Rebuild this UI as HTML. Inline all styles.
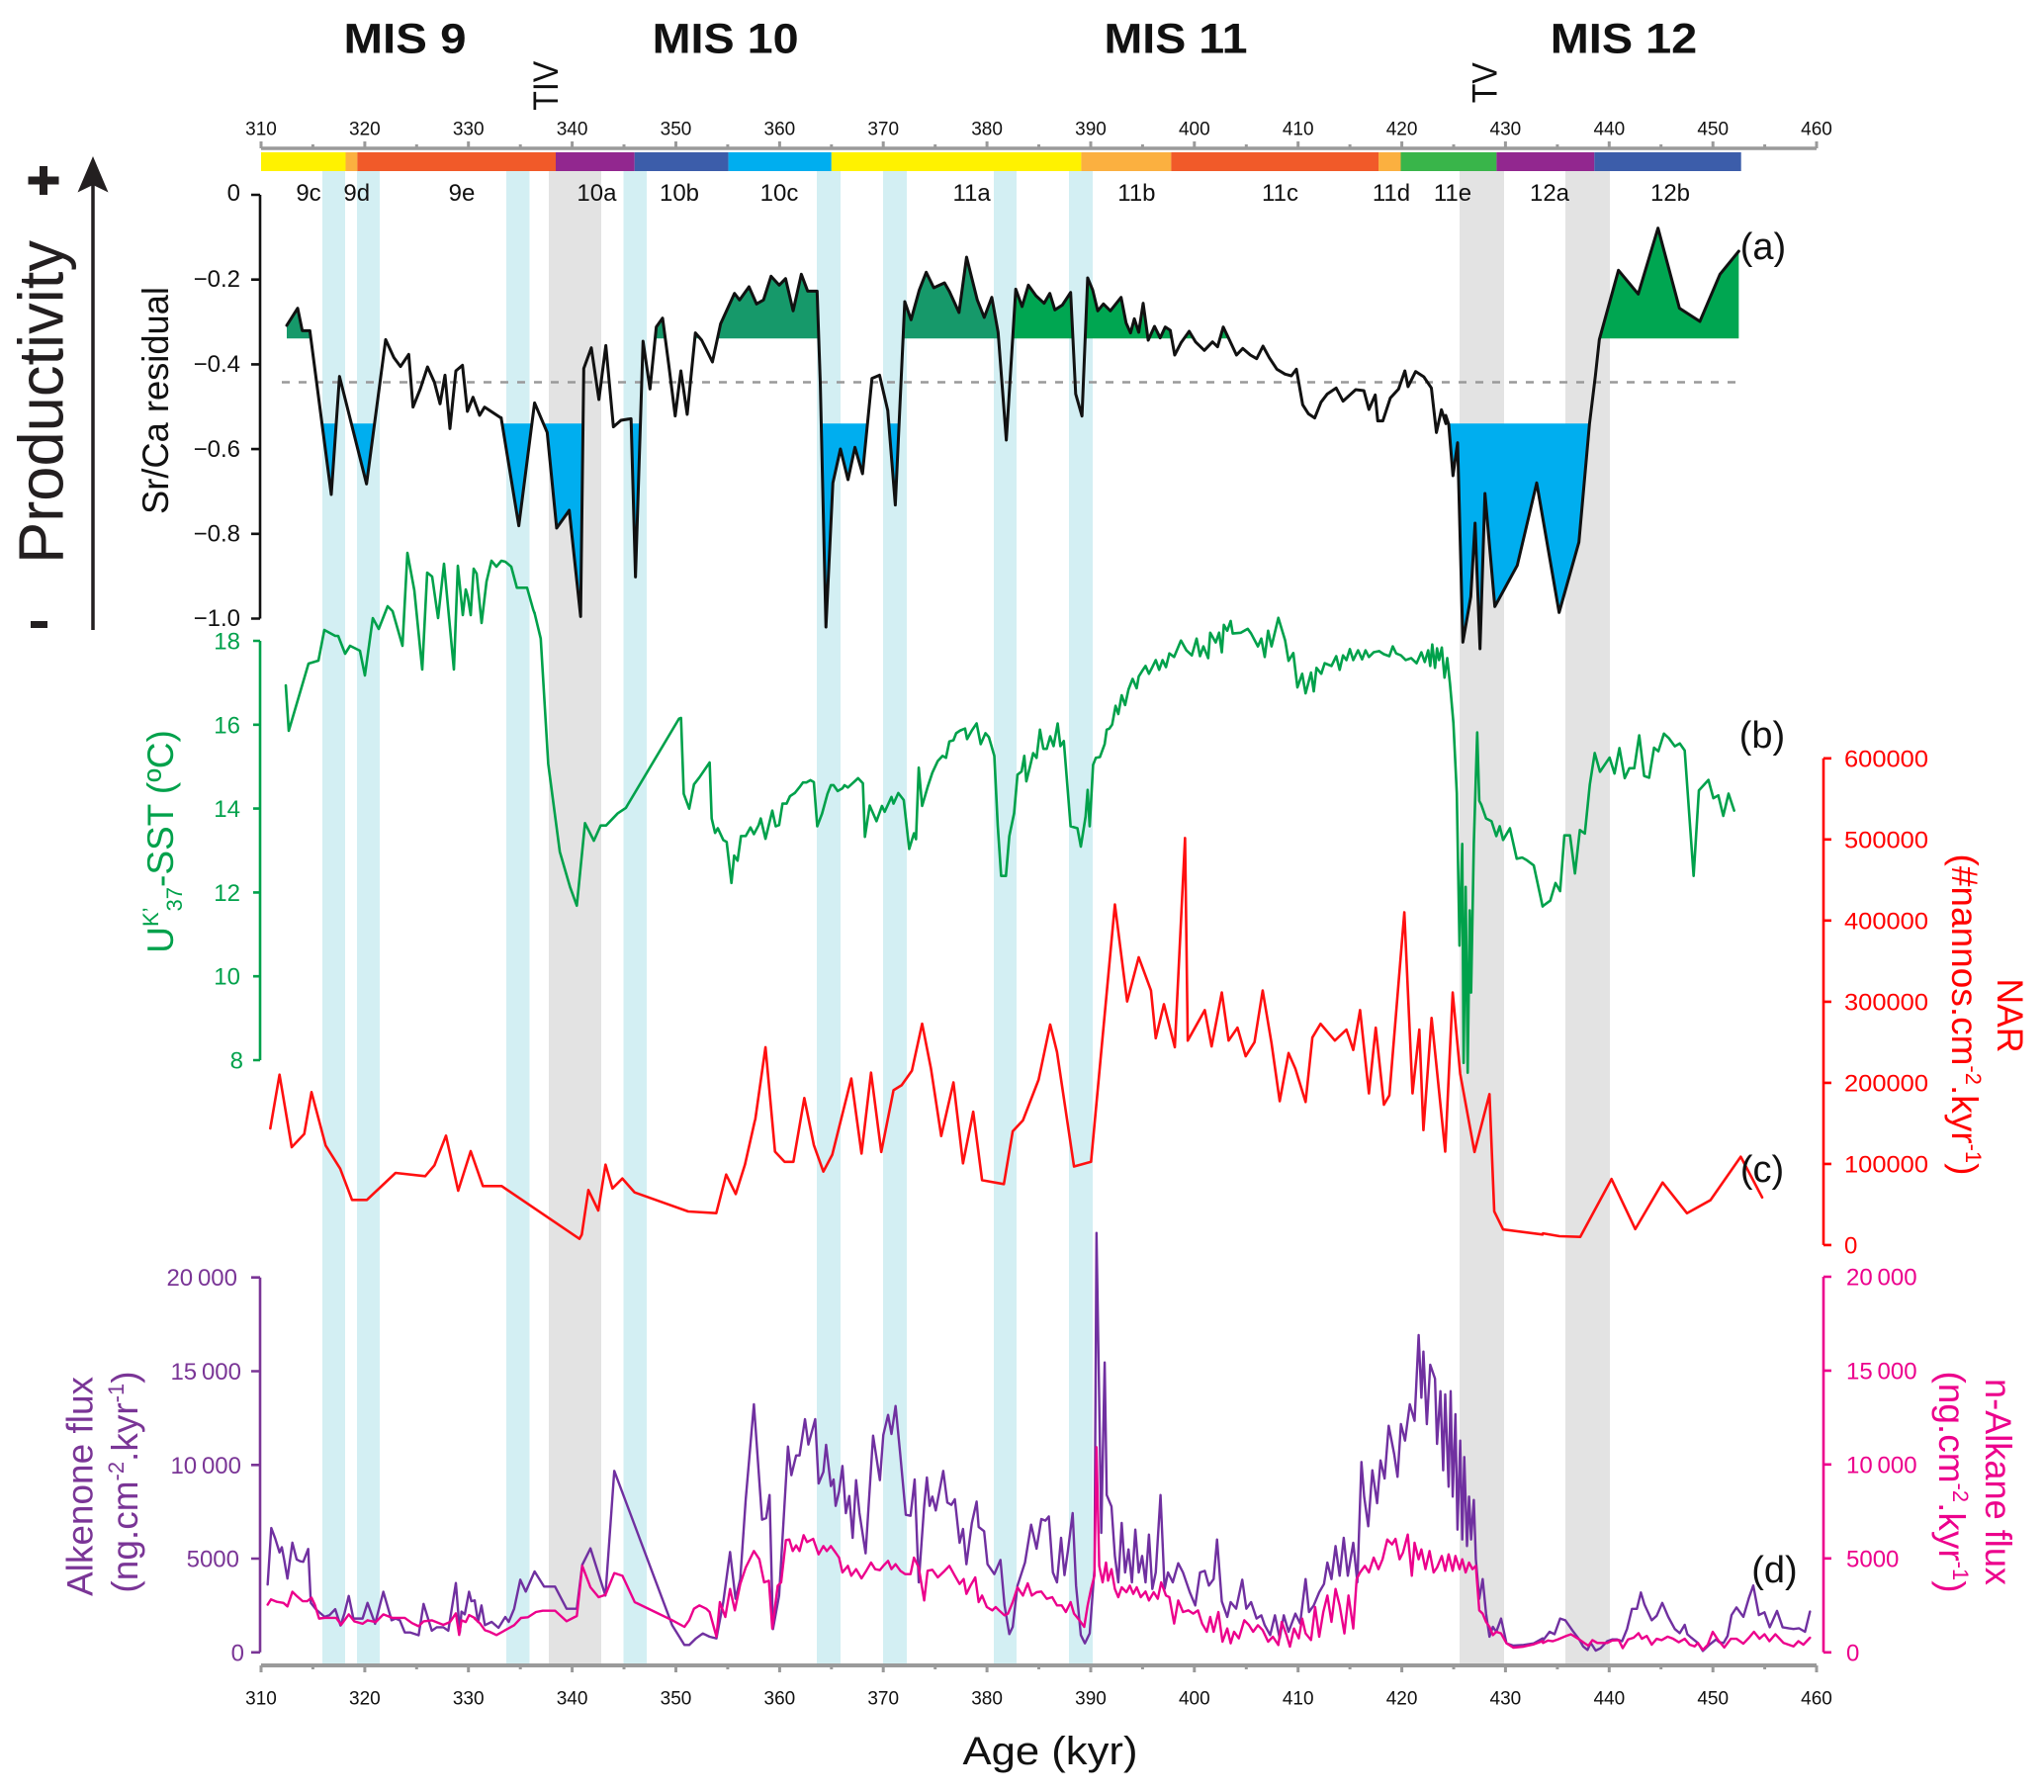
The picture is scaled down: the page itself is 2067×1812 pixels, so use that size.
<!DOCTYPE html>
<html>
<head>
<meta charset="utf-8">
<style>
html,body{margin:0;padding:0;background:#fff;}
svg{display:block;}
text{font-family:"Liberation Sans",Arial,sans-serif;}
</style>
</head>
<body>
<svg xmlns="http://www.w3.org/2000/svg" width="2067" height="1812" viewBox="0 0 2067 1812">
<defs>
<clipPath id="cGD" clipPathUnits="userSpaceOnUse"><rect x="0" y="0" width="1015" height="342.3"/></clipPath>
<clipPath id="cGB" clipPathUnits="userSpaceOnUse"><rect x="1015" y="0" width="1052" height="342.3"/></clipPath>
<clipPath id="cB" clipPathUnits="userSpaceOnUse"><rect x="0" y="428.3" width="2067" height="300"/></clipPath>
</defs>
<rect x="0" y="0" width="2067" height="1812" fill="#fff"/>

<!-- stripes -->
<g fill="#d3eff3">
<rect x="326" y="173" width="23" height="1510"/>
<rect x="361" y="173" width="23" height="1510"/>
<rect x="512" y="173" width="23.5" height="1510"/>
<rect x="630.5" y="173" width="23.5" height="1510"/>
<rect x="826" y="173" width="24" height="1510"/>
<rect x="893" y="173" width="24" height="1510"/>
<rect x="1005" y="173" width="23" height="1510"/>
<rect x="1081" y="173" width="24" height="1510"/>
</g>
<g fill="#e3e3e3">
<rect x="555" y="173" width="53" height="1510"/>
<rect x="1476" y="173" width="45" height="1510"/>
<rect x="1583" y="173" width="45" height="1510"/>
</g>

<!-- MIS titles -->
<g font-weight="bold" font-size="43" fill="#111" text-anchor="middle">
<text x="409.5" y="53.3" textLength="124" lengthAdjust="spacingAndGlyphs">MIS 9</text>
<text x="733.6" y="53.3" textLength="148" lengthAdjust="spacingAndGlyphs">MIS 10</text>
<text x="1189" y="53.3" textLength="145" lengthAdjust="spacingAndGlyphs">MIS 11</text>
<text x="1642" y="53.3" textLength="148.5" lengthAdjust="spacingAndGlyphs">MIS 12</text>
</g>
<text transform="translate(563.8,86.7) rotate(-90)" text-anchor="middle" font-size="35" fill="#111" textLength="50" lengthAdjust="spacingAndGlyphs">TIV</text>
<text transform="translate(1513.4,83.7) rotate(-90)" text-anchor="middle" font-size="35" fill="#111" textLength="41" lengthAdjust="spacingAndGlyphs">TV</text>

<!-- top axis -->
<g stroke="#9a9a9a" fill="none">
<line x1="264" y1="150" x2="1837" y2="150" stroke-width="3.5"/>
<path stroke-width="3" d="M264,143V150M368.9,143V150M473.7,143V150M578.6,143V150M683.5,143V150M788.4,143V150M893.2,143V150M998.1,143V150M1103,143V150M1207.8,143V150M1312.7,143V150M1417.6,143V150M1522.4,143V150M1627.3,143V150M1732.2,143V150M1837,143V150"/>
<path stroke-width="3" d="M316.4,146V150M421.3,146V150M526.2,146V150M631,146V150M735.9,146V150M840.8,146V150M945.7,146V150M1050.5,146V150M1155.4,146V150M1260.3,146V150M1365.1,146V150M1470,146V150M1574.9,146V150M1679.7,146V150M1784.6,146V150"/>
</g>
<g font-size="19" fill="#111" text-anchor="middle">
<text x="264" y="136.7">310</text><text x="368.9" y="136.7">320</text><text x="473.7" y="136.7">330</text><text x="578.6" y="136.7">340</text><text x="683.5" y="136.7">350</text><text x="788.4" y="136.7">360</text><text x="893.2" y="136.7">370</text><text x="998.1" y="136.7">380</text><text x="1103" y="136.7">390</text><text x="1207.8" y="136.7">400</text><text x="1312.7" y="136.7">410</text><text x="1417.6" y="136.7">420</text><text x="1522.4" y="136.7">430</text><text x="1627.3" y="136.7">440</text><text x="1732.2" y="136.7">450</text><text x="1837" y="136.7">460</text>
</g>

<!-- color bar -->
<g>
<rect x="264" y="154" width="85.5" height="19" fill="#fff200"/>
<rect x="349.5" y="154" width="11.9" height="19" fill="#fbb040"/>
<rect x="361.4" y="154" width="200.6" height="19" fill="#f15a29"/>
<rect x="562" y="154" width="79.7" height="19" fill="#92278f"/>
<rect x="641.7" y="154" width="94.9" height="19" fill="#3c5daa"/>
<rect x="736.6" y="154" width="104.2" height="19" fill="#00aeef"/>
<rect x="840.8" y="154" width="252.6" height="19" fill="#fff200"/>
<rect x="1093.4" y="154" width="91" height="19" fill="#fbb040"/>
<rect x="1184.4" y="154" width="209.6" height="19" fill="#f15a29"/>
<rect x="1394" y="154" width="22.5" height="19" fill="#fbb040"/>
<rect x="1416.5" y="154" width="96.9" height="19" fill="#39b54a"/>
<rect x="1513.4" y="154" width="98.9" height="19" fill="#92278f"/>
<rect x="1612.3" y="154" width="148.4" height="19" fill="#3c5daa"/>
</g>
<g font-size="24" fill="#111" text-anchor="middle">
<text x="312" y="203">9c</text><text x="360.7" y="203">9d</text><text x="467" y="203">9e</text><text x="603.4" y="203">10a</text><text x="687" y="203">10b</text><text x="788" y="203">10c</text><text x="982.6" y="203">11a</text><text x="1149.4" y="203">11b</text><text x="1294.5" y="203">11c</text><text x="1407" y="203">11d</text><text x="1469" y="203">11e</text><text x="1567" y="203">12a</text><text x="1689" y="203">12b</text>
</g>

<!-- productivity arrow -->
<line x1="94" y1="637" x2="94" y2="185" stroke="#231f20" stroke-width="3.5"/>
<polygon points="94,158 109.5,194.5 94,187 78.5,194.5" fill="#231f20"/>
<rect x="28.5" y="178.5" width="31" height="8" fill="#231f20"/>
<rect x="40" y="168" width="8" height="29" fill="#231f20"/>
<rect x="31" y="628" width="17" height="7" fill="#231f20"/>
<text transform="translate(63.3,406.5) rotate(-90)" text-anchor="middle" font-size="64" fill="#231f20" textLength="327" lengthAdjust="spacingAndGlyphs">Productivity</text>

<!-- panel a axis -->
<text transform="translate(170,405) rotate(-90)" text-anchor="middle" font-size="37" fill="#111" textLength="230" lengthAdjust="spacingAndGlyphs">Sr/Ca residual</text>
<g stroke="#111" stroke-width="2.6" fill="none">
<path d="M263,197V625.5M254,197H263M254,282.7H263M254,368.4H263M254,454.1H263M254,539.8H263M254,625.5H263"/>
</g>
<g font-size="24" fill="#111" text-anchor="end">
<text x="243" y="203">0</text><text x="243" y="290">−0.2</text><text x="243" y="376">−0.4</text><text x="243" y="462">−0.6</text><text x="243" y="547.5">−0.8</text><text x="243" y="633">−1.0</text>
</g>

<!-- panel a fills -->
<g clip-path="url(#cGD)" fill="#16996a">
<g transform="translate(0,140) scale(0.333333,0.333333)"><polygon points="870,567 903,515 917,583 940,583 1005,1080 1030,722 1112,1048 1170,610 1195,665 1215,692 1240,655 1253,815 1275,760 1297,693 1318,740 1335,805 1350,718 1365,880 1383,705 1403,688 1418,828 1435,785 1455,840 1470,815 1520,848 1520,616 870,616"/></g>
<g transform="translate(480,180) scale(0.637755,0.333333)"><polygon points="42,727 70,1055 95,682 115,772 130,1062 150,1008 168,1330 173,578 185,515 197,672 208,508 220,755 232,735 248,730 255,1210 267,495 278,640 288,452 298,425 308,570 318,722 327,585 337,717 350,470 360,492 377,558 390,442 412,350 420,370 435,330 447,382 458,370 470,298 483,325 493,305 505,403 518,292 528,343 543,343 548,620 557,1362 568,925 580,822 592,915 603,817 615,897 630,608 642,598 655,705 667,992 682,375 692,430 705,340 716,286 728,333 745,318 753,345 768,408 780,240 797,370 808,423 820,362 830,468 843,795 858,337 868,390 878,325 890,357 903,380 912,350 920,400 932,385 945,347 953,655 963,722 972,303 980,340 988,403 997,382 1008,403 1025,362 1033,440 1040,470 1046,427 1053,468 1060,380 1068,492 1078,450 1087,485 1095,452 1103,462 1110,537 1120,500 1133,465 1143,497 1157,523 1170,497 1178,512 1187,452 1197,492 1208,537 1218,517 1230,537 1240,548 1250,510 1260,545 1272,580 1285,595 1295,600 1303,580 1313,688 1322,715 1332,728 1342,680 1352,655 1366,637 1377,677 1397,642 1410,645 1418,702 1428,658 1432,737 1440,737 1452,667 1465,640 1475,585 1480,633 1492,587 1505,603 1517,637 1525,772 1533,703 1540,745 1540,496 42,496"/></g>
</g>
<g clip-path="url(#cGB)" fill="#00a651">
<g transform="translate(480,180) scale(0.637755,0.333333)"><polygon points="42,727 70,1055 95,682 115,772 130,1062 150,1008 168,1330 173,578 185,515 197,672 208,508 220,755 232,735 248,730 255,1210 267,495 278,640 288,452 298,425 308,570 318,722 327,585 337,717 350,470 360,492 377,558 390,442 412,350 420,370 435,330 447,382 458,370 470,298 483,325 493,305 505,403 518,292 528,343 543,343 548,620 557,1362 568,925 580,822 592,915 603,817 615,897 630,608 642,598 655,705 667,992 682,375 692,430 705,340 716,286 728,333 745,318 753,345 768,408 780,240 797,370 808,423 820,362 830,468 843,795 858,337 868,390 878,325 890,357 903,380 912,350 920,400 932,385 945,347 953,655 963,722 972,303 980,340 988,403 997,382 1008,403 1025,362 1033,440 1040,470 1046,427 1053,468 1060,380 1068,492 1078,450 1087,485 1095,452 1103,462 1110,537 1120,500 1133,465 1143,497 1157,523 1170,497 1178,512 1187,452 1197,492 1208,537 1218,517 1230,537 1240,548 1250,510 1260,545 1272,580 1285,595 1295,600 1303,580 1313,688 1322,715 1332,728 1342,680 1352,655 1366,637 1377,677 1397,642 1410,645 1418,702 1428,658 1432,737 1440,737 1452,667 1465,640 1475,585 1480,633 1492,587 1505,603 1517,637 1525,772 1533,703 1540,745 1540,496 42,496"/></g>
<g transform="translate(1400,180) scale(0.333333,0.333333)"><polygon points="195,747 208,903 222,803 238,1408 262,1270 275,1047 290,1428 305,957 335,1300 403,1175 462,925 530,1318 590,1105 622,747 640,600 652,490 710,280 770,352 830,152 895,395 957,435 1018,292 1075,222 1075,496 195,496"/></g>
</g>
<g clip-path="url(#cB)" fill="#00aeef">
<g transform="translate(0,140) scale(0.333333,0.333333)"><polygon points="870,567 903,515 917,583 940,583 1005,1080 1030,722 1112,1048 1170,610 1195,665 1215,692 1240,655 1253,815 1275,760 1297,693 1318,740 1335,805 1350,718 1365,880 1383,705 1403,688 1418,828 1435,785 1455,840 1470,815 1520,848 1520,856 870,856"/></g>
<g transform="translate(480,180) scale(0.637755,0.333333)"><polygon points="42,727 70,1055 95,682 115,772 130,1062 150,1008 168,1330 173,578 185,515 197,672 208,508 220,755 232,735 248,730 255,1210 267,495 278,640 288,452 298,425 308,570 318,722 327,585 337,717 350,470 360,492 377,558 390,442 412,350 420,370 435,330 447,382 458,370 470,298 483,325 493,305 505,403 518,292 528,343 543,343 548,620 557,1362 568,925 580,822 592,915 603,817 615,897 630,608 642,598 655,705 667,992 682,375 692,430 705,340 716,286 728,333 745,318 753,345 768,408 780,240 797,370 808,423 820,362 830,468 843,795 858,337 868,390 878,325 890,357 903,380 912,350 920,400 932,385 945,347 953,655 963,722 972,303 980,340 988,403 997,382 1008,403 1025,362 1033,440 1040,470 1046,427 1053,468 1060,380 1068,492 1078,450 1087,485 1095,452 1103,462 1110,537 1120,500 1133,465 1143,497 1157,523 1170,497 1178,512 1187,452 1197,492 1208,537 1218,517 1230,537 1240,548 1250,510 1260,545 1272,580 1285,595 1295,600 1303,580 1313,688 1322,715 1332,728 1342,680 1352,655 1366,637 1377,677 1397,642 1410,645 1418,702 1428,658 1432,737 1440,737 1452,667 1465,640 1475,585 1480,633 1492,587 1505,603 1517,637 1525,772 1533,703 1540,745 1540,736 42,736"/></g>
<g transform="translate(1400,180) scale(0.333333,0.333333)"><polygon points="195,747 208,903 222,803 238,1408 262,1270 275,1047 290,1428 305,957 335,1300 403,1175 462,925 530,1318 590,1105 622,747 640,600 652,490 710,280 770,352 830,152 895,395 957,435 1018,292 1075,222 1075,736 195,736"/></g>
</g>

<!-- dashed line -->
<line x1="285" y1="386.5" x2="1758" y2="386.5" stroke="#999" stroke-width="2.6" stroke-dasharray="8,9"/>

<!-- panel a line -->
<g fill="none" stroke="#111" stroke-width="3" stroke-linejoin="round" stroke-linecap="round">
<g transform="translate(0,140) scale(0.333333,0.333333)"><polyline vector-effect="non-scaling-stroke" points="870,567 903,515 917,583 940,583 1005,1080 1030,722 1112,1048 1170,610 1195,665 1215,692 1240,655 1253,815 1275,760 1297,693 1318,740 1335,805 1350,718 1365,880 1383,705 1403,688 1418,828 1435,785 1455,840 1470,815 1520,848"/></g>
<g transform="translate(480,180) scale(0.637755,0.333333)"><polyline vector-effect="non-scaling-stroke" points="42,727 70,1055 95,682 115,772 130,1062 150,1008 168,1330 173,578 185,515 197,672 208,508 220,755 232,735 248,730 255,1210 267,495 278,640 288,452 298,425 308,570 318,722 327,585 337,717 350,470 360,492 377,558 390,442 412,350 420,370 435,330 447,382 458,370 470,298 483,325 493,305 505,403 518,292 528,343 543,343 548,620 557,1362 568,925 580,822 592,915 603,817 615,897 630,608 642,598 655,705 667,992 682,375 692,430 705,340 716,286 728,333 745,318 753,345 768,408 780,240 797,370 808,423 820,362 830,468 843,795 858,337 868,390 878,325 890,357 903,380 912,350 920,400 932,385 945,347 953,655 963,722 972,303 980,340 988,403 997,382 1008,403 1025,362 1033,440 1040,470 1046,427 1053,468 1060,380 1068,492 1078,450 1087,485 1095,452 1103,462 1110,537 1120,500 1133,465 1143,497 1157,523 1170,497 1178,512 1187,452 1197,492 1208,537 1218,517 1230,537 1240,548 1250,510 1260,545 1272,580 1285,595 1295,600 1303,580 1313,688 1322,715 1332,728 1342,680 1352,655 1366,637 1377,677 1397,642 1410,645 1418,702 1428,658 1432,737 1440,737 1452,667 1465,640 1475,585 1480,633 1492,587 1505,603 1517,637 1525,772 1533,703 1540,745"/></g>
<g transform="translate(1400,180) scale(0.333333,0.333333)"><polyline vector-effect="non-scaling-stroke" points="186,720 195,747 208,903 222,803 238,1408 262,1270 275,1047 290,1428 305,957 335,1300 403,1175 462,925 530,1318 590,1105 622,747 640,600 652,490 710,280 770,352 830,152 895,395 957,435 1018,292 1075,222"/></g>
</g>
<text x="1783" y="262" text-anchor="middle" font-size="38" fill="#111">(a)</text>

<!-- panel b axis -->
<g stroke="#00a14b" stroke-width="2.6" fill="none">
<path d="M263,648V1072M256,648H263M256,732.8H263M256,817.6H263M256,902.4H263M256,987.2H263M256,1072H263"/>
</g>
<g font-size="24" fill="#00a14b" text-anchor="end">
<text x="243" y="656.5">18</text><text x="243" y="741.3">16</text><text x="243" y="826">14</text><text x="243" y="911">12</text><text x="243" y="995.7">10</text><text x="246" y="1080.5">8</text>
</g>
<text transform="translate(175,851) rotate(-90)" text-anchor="middle" font-size="37" fill="#00a14b">U<tspan font-size="22" dy="-15">K’</tspan><tspan font-size="22" dx="-4" dy="24">37</tspan><tspan dy="-9">-SST (ºC)</tspan></text>

<!-- SST line -->
<g fill="none" stroke="#00a14b" stroke-width="2.6" stroke-linejoin="round" stroke-linecap="round">
<polyline points="289,693 292,739 312,671 322,668 328,637 339,643 342,643 349,661 354,653 364,658 369,683 377,625 383,636 392,613 397,618 407,653 412,559 419,597 427,677 432,579 437,583 443,625 449,570 459,677 463,572 468,622 471,596 473,603 476,622 479,575 482,580 487,630 492,588 497,567 502,573 507,567 511,568 517,573 522.7,594.3 533,594.3 539.3,616.7 540.6,620"/>
<g transform="translate(480,620) scale(0.688753,0.395413)"><polyline vector-effect="non-scaling-stroke" points="88,0 97,65 108,385 125,610 140,700 150,748 162,537 175,582 185,543 193,543 210,512 222,498 300,270 303,268 307,462 315,500 322,438 330,420 345,382 348,525 353,562 357,550 365,580 370,585 377,690 381,620 386,633 391,570 398,570 405,548 410,565 417,542 420,525 427,577 437,505 442,545 447,542 452,487 458,487 463,468 470,460 477,445 482,433 487,433 493,427 498,432 503,545 510,513 518,462 523,440 527,440 533,455 540,448 543,440 548,446 553,438 563,422 570,435 573,572 580,492 590,532 598,493 602,508 612,470 615,487 622,460 630,478 638,603 645,563 648,578 652,395 657,493 665,445 672,408 680,378 687,365 692,370 697,328 703,325 707,307 713,300 720,295 723,322 730,300 737,282 743,335 750,307 755,317 763,365 768,543 773,672 780,672 785,570 792,512 797,413 803,405 807,365 810,430 815,395 820,358 825,370 830,298 835,347 840,347 845,315 850,340 856,282 860,340 865,327 875,545 885,550 890,597 897,520 900,452 903,545 908,388 912,370 918,368 925,335 928,298 932,295 936,285 941,237 945,258 950,210 955,235 960,195 966,168 972,192 975,162 980,148 985,135 990,155 995,138 1000,120 1005,145 1010,120 1015,138 1020,103 1027,112 1037,70 1045,95 1053,108 1060,65 1065,110 1070,85 1077,115 1080,50 1088,75 1093,50 1097,100 1100,30 1105,45 1110,20 1113,52 1125,50 1135,40 1140,52 1150,85 1155,65 1160,112 1165,45 1170,85 1180,12 1190,70 1195,122 1202,102 1208,190 1215,155 1220,205 1228,152 1232,200 1236,140 1243,155 1248,128 1258,135 1265,110 1270,145 1275,108 1280,120 1285,92 1290,120 1297,95 1303,118 1308,95 1313,112 1320,100 1328,97 1335,105 1343,110 1348,85 1353,103 1360,108 1367,120 1375,115 1383,128 1390,100 1395,125 1400,95 1403,135 1406,80 1410,140 1413,90 1416,120 1420,88 1424,165 1428,115 1432,180 1437,280 1442,460 1446,850 1450,590 1452,1150 1455,700 1458,1175 1461,760 1463,970 1467,590 1472,305 1475,480 1478,490 1485,525 1493,532 1500,570 1505,545 1510,580 1520,550 1530,628 1538,625 1545,632 1555,645 1568,750"/></g>
<g transform="translate(1547,700) scale(0.333333,0.357143)"><polyline vector-effect="non-scaling-stroke" points="40,605 62,590 78,540 92,563 105,405 122,405 137,513 152,390 167,400 182,262 197,172 213,225 242,185 257,230 272,158 288,243 302,215 317,215 332,122 347,237 362,242 377,157 390,167 407,117 422,130 440,153 455,145 470,165 497,520 513,278 542,248 557,300 572,292 587,350 603,287 620,335"/></g>
</g>
<text x="1782" y="756" text-anchor="middle" font-size="38" fill="#111">(b)</text>

<!-- NAR axis -->
<g stroke="#ff0000" stroke-width="2.6" fill="none">
<path d="M1844,766.8V1258.9M1844,766.8H1852M1844,848.8H1852M1844,930.8H1852M1844,1012.9H1852M1844,1094.9H1852M1844,1176.9H1852M1844,1258.9H1852"/>
</g>
<g font-size="24" fill="#ff0000" text-anchor="start">
<text x="1865" y="775.5" textLength="85" lengthAdjust="spacingAndGlyphs">600000</text>
<text x="1865" y="857.5" textLength="85" lengthAdjust="spacingAndGlyphs">500000</text>
<text x="1865" y="939.5" textLength="85" lengthAdjust="spacingAndGlyphs">400000</text>
<text x="1865" y="1021.5" textLength="85" lengthAdjust="spacingAndGlyphs">300000</text>
<text x="1865" y="1103.5" textLength="85" lengthAdjust="spacingAndGlyphs">200000</text>
<text x="1865" y="1185.5" textLength="85" lengthAdjust="spacingAndGlyphs">100000</text>
<text x="1865" y="1267.5">0</text>
</g>
<text transform="translate(2020,1027) rotate(90)" text-anchor="middle" font-size="37" fill="#ff0000" textLength="75" lengthAdjust="spacingAndGlyphs">NAR</text>
<text transform="translate(1974,1026) rotate(90)" text-anchor="middle" font-size="37" fill="#ff0000">(#nannos.cm<tspan font-size="22" dy="-14">-2</tspan><tspan dy="14">.kyr</tspan><tspan font-size="22" dy="-14">-1</tspan><tspan dy="14">)</tspan></text>

<!-- NAR line -->
<g fill="none" stroke="#ff1010" stroke-width="2.6" stroke-linejoin="round" stroke-linecap="round">
<g transform="translate(260,1080) scale(0.333333,0.333333)"><polyline vector-effect="non-scaling-stroke" points="40,183 68,20 105,240 143,200 165,73 208,235 252,305 288,400 333,400 420,318 510,328 538,295 573,205 610,372 648,252 685,358 742,358 978,518 985,505 1005,370 1035,432 1057,293 1078,365 1108,335 1145,377 1308,435 1393,440 1423,323 1452,382 1480,293 1510,160"/></g>
<g transform="translate(480,620) scale(0.688753,0.395413)"><polyline vector-effect="non-scaling-stroke" points="412,1295 427,1110 441,1377 455,1403 468,1403 484,1240 498,1360 512,1428 525,1385 553,1190 568,1382 582,1175 597,1378 615,1220 627,1207 642,1170 657,1050 670,1165 685,1337 703,1200 717,1407 732,1275 745,1450 777,1460 790,1325 805,1297 828,1193 845,1052 855,1122 880,1415 905,1403 940,745 958,993 975,880 993,965 1000,1087 1012,1000 1028,1110 1043,575 1047,1093 1072,1015 1082,1108 1097,970 1107,1093 1120,1060 1132,1133 1145,1097 1157,965 1170,1100 1182,1248 1195,1125 1205,1165 1220,1250 1230,1085 1242,1050 1263,1093 1280,1065 1290,1117 1300,1015 1313,1228 1323,1060 1335,1257 1343,1233 1365,765 1377,1228 1387,1065 1393,1322 1405,1035 1425,1377 1436,970 1447,1178 1468,1378 1490,1230 1497,1530 1510,1576 1568,1589"/></g>
<g transform="translate(1547,700) scale(0.333333,0.357143)"><polyline vector-effect="non-scaling-stroke" points="40,1532 90,1540 153,1542 248,1378 320,1520 403,1388 477,1475 548,1438 640,1315 705,1430"/></g>
</g>
<text x="1782" y="1195" text-anchor="middle" font-size="38" fill="#111">(c)</text>

<!-- panel d axes -->
<g stroke="#7a3596" stroke-width="2.6" fill="none">
<path d="M263,1291.7V1670.8M254,1291.7H263M254,1386.5H263M254,1481.3H263M254,1576H263M254,1670.8H263"/>
</g>
<g font-size="24" fill="#7a3596" text-anchor="end">
<text x="240" y="1300.2">20&#8201;000</text><text x="244" y="1395">15&#8201;000</text><text x="244" y="1489.8">10&#8201;000</text><text x="242" y="1584.5">5000</text><text x="247" y="1679.3">0</text>
</g>
<text transform="translate(93.3,1503) rotate(-90)" text-anchor="middle" font-size="37" fill="#7a3596" textLength="222" lengthAdjust="spacingAndGlyphs">Alkenone flux</text>
<text transform="translate(139,1498.5) rotate(-90)" text-anchor="middle" font-size="37" fill="#7a3596">(ng.cm<tspan font-size="22" dy="-14">-2</tspan><tspan dy="14">.kyr</tspan><tspan font-size="22" dy="-14">-1</tspan><tspan dy="14">)</tspan></text>

<g stroke="#ec008c" stroke-width="2.6" fill="none">
<path d="M1844,1291V1670.8M1844,1291H1852M1844,1385.9H1852M1844,1480.8H1852M1844,1575.8H1852M1844,1670.8H1852"/>
</g>
<g font-size="24" fill="#ec008c" text-anchor="start">
<text x="1867" y="1299.5">20&#8201;000</text><text x="1867" y="1394.5">15&#8201;000</text><text x="1867" y="1489.3">10&#8201;000</text><text x="1867" y="1584.3">5000</text><text x="1867" y="1679.3">0</text>
</g>
<text transform="translate(2008,1498.5) rotate(90)" text-anchor="middle" font-size="37" fill="#ec008c" textLength="209" lengthAdjust="spacingAndGlyphs">n-Alkane flux</text>
<text transform="translate(1961,1498.5) rotate(90)" text-anchor="middle" font-size="37" fill="#ec008c">(ng.cm<tspan font-size="22" dy="-14">-2</tspan><tspan dy="14">.kyr</tspan><tspan font-size="22" dy="-14">-1</tspan><tspan dy="14">)</tspan></text>

<!-- panel d lines: purple -->
<g fill="none" stroke="#7030a0" stroke-width="2.4" stroke-linejoin="round" stroke-linecap="round">
<g transform="translate(0,1260) scale(0.333333,0.351989)"><polyline vector-effect="non-scaling-stroke" points="812,972 823,810 835,840 848,880 855,865 862,900 872,955 887,852 900,900 910,905 920,907 935,870 943,1025 960,1045 985,1065 1000,1060 1017,1043 1033,1090 1045,1055 1058,1005 1072,1070 1100,1070 1115,1025 1138,1085 1163,993 1188,1075 1200,1070 1213,1075 1228,1110 1245,1110 1270,1118 1285,1028 1310,1105 1325,1095 1345,1095 1360,1105 1383,968 1395,1110 1400,1050 1410,1058 1423,993 1430,1020 1440,1018"/></g>
<g transform="translate(480,1240) scale(0.688753,0.333333)"><polyline vector-effect="non-scaling-stroke" points="0,1135 5,1200 10,1150 15,1210 25,1200 35,1218 45,1185 50,1200 58,1160 67,1072 75,1108 88,1047 102,1093 118,1093 135,1160 150,1160 158,1027 170,977 192,1120 205,742 290,1210 308,1270 315,1270 325,1250 335,1235 345,1245 355,1250 365,1140 375,988 383,1130 390,1070 398,828 410,540 422,890 428,885 433,815 438,1222 447,1120 460,668 465,755 472,695 477,695 485,585 490,662 500,585 505,780 512,745 516,663 523,788 527,768 530,848 535,805 540,727 545,870 550,818 555,945 560,770 565,870 574,992 585,635 595,770 600,633 607,572 612,630 618,545 625,695 633,875 640,878 646,768 652,1080 660,848 664,762 668,848 672,820 677,862 688,742 694,838 700,845 705,828 712,960 717,918 722,1025 730,900 737,835 740,912 748,925 753,1025 763,1055 772,1012 778,1150 785,1237 790,1215 797,1090 808,1020 817,905 825,978 832,888 838,893 843,880 849,1050 855,1080 861,945 866,1058 871,985 878,870 883,1090 890,1240 896,1265 903,1235 910,1040 913,20 916,400 920,930 925,413 928,815 935,850 940,1000 945,1080 950,900 955,1050 960,980 965,1080 970,920 975,1050 980,1000 985,1080 990,935 995,1100 1000,1050 1007,815 1013,1100 1018,1050 1025,1080 1033,1022 1040,1050 1045,1080 1050,1110 1058,1150 1065,1050 1072,1045 1078,1090 1085,1070 1090,950 1097,1138 1105,1185 1110,1140 1118,1160 1127,1072 1133,1160 1140,1140 1148,1190 1155,1180 1160,1210 1168,1240 1175,1180 1182,1250 1188,1180 1195,1230 1205,1175 1212,1205 1220,1070 1225,1170 1232,1150 1240,1110 1247,1085 1252,1020 1258,1070 1264,970 1270,1060 1276,945 1282,1060 1290,960 1296,1080 1302,715 1306,820 1312,910 1318,740 1325,840 1330,710 1336,765 1342,605 1350,690 1355,760 1360,600 1366,650 1373,540 1380,590 1386,330 1390,520 1393,380 1398,600 1403,420 1410,462 1413,660 1418,500 1422,740 1425,510 1430,790 1433,500 1436,820 1440,570 1443,920 1447,650 1450,950 1453,700 1457,970 1460,820 1463,950 1467,830 1470,1010 1475,1130 1480,1070 1485,1175 1490,1245 1495,1215 1500,1230 1507,1190 1515,1265 1525,1272 1540,1270 1555,1265 1568,1250"/></g>
<g transform="translate(1547,1260) scale(0.333333,0.351989)"><polyline vector-effect="non-scaling-stroke" points="40,1133 60,1108 75,1115 92,1070 108,1075 130,1105 150,1130 162,1150 175,1160 185,1140 200,1162 215,1155 235,1135 250,1130 265,1130 280,1135 295,1100 310,1042 325,1042 337,995 348,1030 370,1075 385,1062 402,1025 420,1065 440,1100 455,1112 470,1088 478,1115 490,1125 510,1140 525,1163 545,1145 565,1130 575,1138 588,1140 600,1120 612,1060 627,1038 648,1065 665,1010 678,975 695,1060 712,1052 728,1095 750,1048 767,1095 785,1098 800,1100 817,1098 835,1108 850,1050"/></g>
</g>
<!-- panel d lines: pink -->
<g fill="none" stroke="#ec008c" stroke-width="2.4" stroke-linejoin="round" stroke-linecap="round">
<g transform="translate(0,1260) scale(0.333333,0.351989)"><polyline vector-effect="non-scaling-stroke" points="812,1030 822,1015 840,1022 860,1025 872,1035 887,993 900,1005 918,1020 932,1020 945,1010 955,1030 968,1070 985,1068 1003,1068 1020,1068 1035,1088 1058,1058 1075,1078 1100,1085 1115,1075 1140,1080 1163,1058 1190,1068 1210,1068 1228,1068 1250,1083 1270,1092 1285,1078 1310,1075 1345,1088 1365,1080 1383,1055 1393,1117 1400,1075 1413,1080 1423,1060 1440,1068"/></g>
<g transform="translate(480,1240) scale(0.688753,0.333333)"><polyline vector-effect="non-scaling-stroke" points="0,1190 8,1205 15,1225 22,1230 32,1240 45,1225 58,1210 68,1188 78,1186 90,1170 100,1166 118,1166 135,1198 150,1182 158,1030 170,1095 182,1125 192,1118 205,1052 217,1060 235,1140 265,1170 290,1195 308,1215 315,1195 322,1160 330,1150 340,1160 345,1170 355,1245 360,1140 368,1185 375,1100 382,1165 390,1085 398,1035 410,985 418,1010 425,1080 432,1075 437,1220 445,1090 450,1080 457,952 462,950 467,985 472,968 477,985 483,937 488,958 497,948 505,995 512,970 517,985 523,970 530,990 535,1005 540,1050 548,1030 553,1060 560,1040 568,1068 575,1045 582,1020 588,1040 595,1043 600,1030 607,1015 612,1040 618,1025 625,1045 632,1055 640,1055 645,1005 652,1035 660,1135 665,1045 672,1042 680,1065 690,1045 697,1030 705,1060 712,1085 718,1070 722,1115 728,1090 735,1065 740,1140 745,1120 752,1155 760,1165 765,1155 770,1165 778,1180 783,1175 790,1140 797,1095 805,1120 812,1083 818,1120 825,1110 832,1108 840,1130 848,1125 855,1150 862,1150 868,1170 875,1140 880,1175 888,1195 895,1215 900,1150 905,1100 910,1060 913,670 917,1030 922,1080 927,1020 930,1075 935,1040 940,1100 945,1125 950,1095 957,1110 962,1090 967,1115 972,1095 978,1125 985,1108 990,1135 997,1110 1003,1130 1008,1080 1015,1120 1020,1125 1027,1205 1033,1135 1040,1170 1048,1165 1055,1175 1062,1165 1068,1205 1075,1230 1080,1185 1085,1230 1092,1170 1098,1260 1105,1220 1110,1265 1115,1230 1122,1250 1130,1195 1137,1210 1143,1230 1150,1210 1157,1225 1165,1260 1172,1245 1180,1270 1185,1200 1192,1240 1197,1275 1203,1220 1210,1250 1215,1190 1220,1235 1228,1255 1234,1155 1240,1245 1246,1170 1252,1120 1258,1200 1264,1100 1270,1150 1277,1235 1283,1120 1290,1220 1295,1070 1300,1050 1307,1030 1313,1050 1320,1005 1327,1040 1333,1010 1340,950 1347,965 1352,948 1358,1010 1363,990 1370,935 1376,1060 1380,960 1386,1010 1390,980 1396,1040 1402,985 1408,1050 1413,1035 1420,1000 1425,1045 1430,995 1436,1045 1440,1000 1446,1040 1450,1010 1455,1050 1460,1020 1465,1040 1470,1030 1475,1165 1480,1175 1485,1200 1490,1215 1495,1240 1500,1230 1507,1235 1515,1265 1525,1278 1540,1275 1555,1268 1568,1258"/></g>
<g transform="translate(1547,1260) scale(0.333333,0.351989)"><polyline vector-effect="non-scaling-stroke" points="40,1140 55,1133 70,1135 85,1130 110,1120 125,1115 150,1130 165,1140 178,1148 190,1132 205,1140 235,1140 250,1133 270,1132 282,1155 298,1130 315,1125 330,1112 340,1128 355,1120 370,1145 385,1128 400,1132 418,1122 435,1128 452,1138 470,1128 485,1145 500,1150 510,1140 525,1160 540,1145 555,1108 570,1130 590,1153 610,1128 627,1128 648,1142 665,1125 680,1108 697,1128 712,1115 727,1135 745,1115 770,1140 800,1150 815,1135 830,1145 850,1125"/></g>
</g>
<text x="1794.5" y="1600" text-anchor="middle" font-size="38" fill="#111">(d)</text>

<!-- bottom axis -->
<g stroke="#9a9a9a" fill="none">
<line x1="264" y1="1684" x2="1837" y2="1684" stroke-width="4"/>
<path stroke-width="3" d="M264,1684V1691M368.9,1684V1691M473.7,1684V1691M578.6,1684V1691M683.5,1684V1691M788.4,1684V1691M893.2,1684V1691M998.1,1684V1691M1103,1684V1691M1207.8,1684V1691M1312.7,1684V1691M1417.6,1684V1691M1522.4,1684V1691M1627.3,1684V1691M1732.2,1684V1691M1837,1684V1691"/>
<path stroke-width="3" d="M316.4,1684V1688M421.3,1684V1688M526.2,1684V1688M631,1684V1688M735.9,1684V1688M840.8,1684V1688M945.7,1684V1688M1050.5,1684V1688M1155.4,1684V1688M1260.3,1684V1688M1365.1,1684V1688M1470,1684V1688M1574.9,1684V1688M1679.7,1684V1688M1784.6,1684V1688"/>
</g>
<g font-size="19" fill="#111" text-anchor="middle">
<text x="264" y="1723.6">310</text><text x="368.9" y="1723.6">320</text><text x="473.7" y="1723.6">330</text><text x="578.6" y="1723.6">340</text><text x="683.5" y="1723.6">350</text><text x="788.4" y="1723.6">360</text><text x="893.2" y="1723.6">370</text><text x="998.1" y="1723.6">380</text><text x="1103" y="1723.6">390</text><text x="1207.8" y="1723.6">400</text><text x="1312.7" y="1723.6">410</text><text x="1417.6" y="1723.6">420</text><text x="1522.4" y="1723.6">430</text><text x="1627.3" y="1723.6">440</text><text x="1732.2" y="1723.6">450</text><text x="1837" y="1723.6">460</text>
</g>
<text x="1062" y="1784" text-anchor="middle" font-size="40" fill="#111" textLength="177" lengthAdjust="spacingAndGlyphs">Age (kyr)</text>
</svg>
</body>
</html>
